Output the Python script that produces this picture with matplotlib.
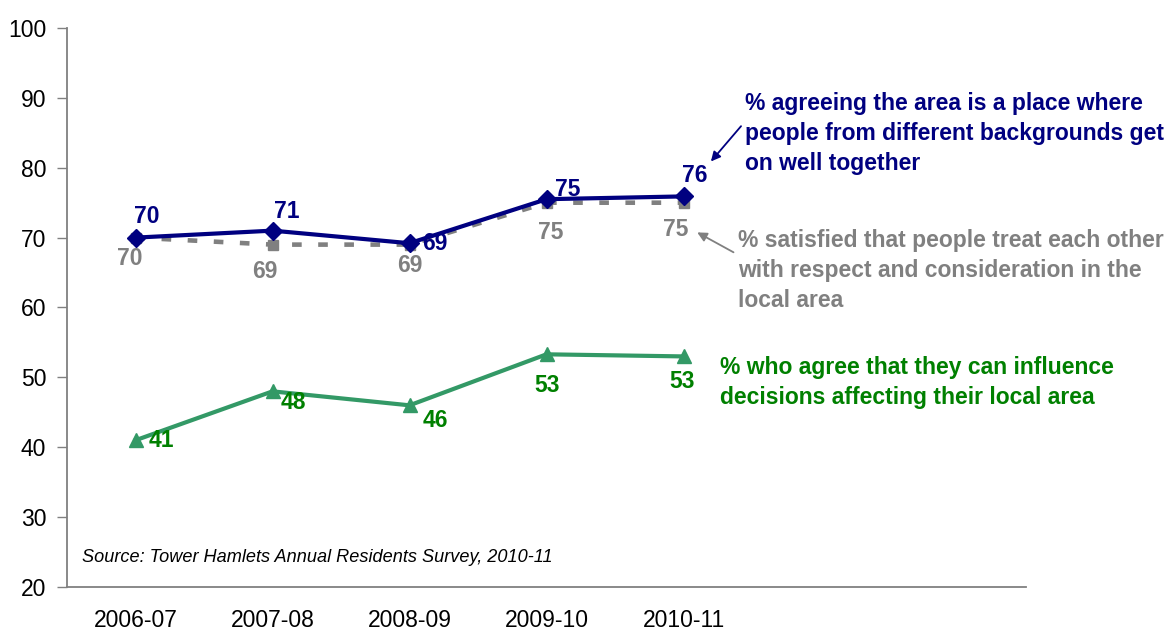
import matplotlib
matplotlib.use("Agg")
import matplotlib.pyplot as plt

plt.rcParams['font.family'] = ['Liberation Sans', 'DejaVu Sans']

# Data
years = ["2006-07", "2007-08", "2008-09", "2009-10", "2010-11"]
backgrounds = [70, 71, 69.2, 75.5, 75.9]
backgrounds_labels = ["70", "71", "69", "75", "76"]
respect = [70, 69, 69, 75, 75]
respect_labels = ["70", "69", "69", "75", "75"]
influence = [41, 48, 46, 53.3, 53]
influence_labels = ["41", "48", "46", "53", "53"]

NAVY = "#000080"
GREY = "#808080"
GREEN_LINE = "#339966"
GREEN_TEXT = "#008000"

# label offsets in pixels (dx, dy), dy up positive
navy_off = [(11, 21), (14, 19), (25, 0), (21, 10), (11, 21)]
grey_off = [(-6, -21), (-8, -27), (0, -21), (4, -30), (-8, -27)]
green_off = [(26, 0), (21, -11), (26, -15), (1, -31), (-1, -25)]

fig = plt.figure(figsize=(11.74, 6.30), dpi=100)
ax = fig.add_axes([67 / 1174, 1 - 587 / 630, (1026 - 67) / 1174, (587 - 28) / 630])

x = list(range(len(years)))

ax.plot(x, respect, color=GREY, lw=3.3, ls=(0, (2.1, 3.6)), marker="s",
        ms=7, mec=GREY, mfc=GREY, zorder=3)
ax.plot(x, backgrounds, color=NAVY, lw=3, marker="D", ms=9.5,
        mec=NAVY, mfc=NAVY, zorder=4)
ax.plot(x, influence, color=GREEN_LINE, lw=3, marker="^", ms=10.5,
        mec=GREEN_LINE, mfc=GREEN_LINE, zorder=3)

def put_labels(vals, labels, offs, color):
    for i, (v, t) in enumerate(zip(vals, labels)):
        ax.annotate(t, (i, v), xytext=offs[i], textcoords="offset pixels",
                    ha="center", va="center", fontsize=16.5, fontweight="bold",
                    color=color, zorder=5)

put_labels(backgrounds, backgrounds_labels, navy_off, NAVY)
put_labels(respect, respect_labels, grey_off, GREY)
put_labels(influence, influence_labels, green_off, GREEN_TEXT)

# series descriptions
ax.text(4.45, 84.9, "% agreeing the area is a place where\npeople from different backgrounds get\non well together",
        color=NAVY, fontsize=16.5, fontweight="bold", ha="left", va="center",
        linespacing=1.4, clip_on=False)
ax.text(4.40, 65.3, "% satisfied that people treat each other\nwith respect and consideration in the\nlocal area",
        color=GREY, fontsize=16.5, fontweight="bold", ha="left", va="center",
        linespacing=1.4, clip_on=False)
ax.text(4.27, 49.3, "% who agree that they can influence\ndecisions affecting their local area",
        color=GREEN_TEXT, fontsize=16.5, fontweight="bold", ha="left", va="center",
        linespacing=1.4, clip_on=False)

ax.annotate("", xy=(4.20, 80.9), xytext=(4.42, 85.95),
            arrowprops=dict(arrowstyle="-|>", color=NAVY, lw=1.3,
                            mutation_scale=14, shrinkA=0, shrinkB=0))
ax.annotate("", xy=(4.10, 70.75), xytext=(4.365, 67.9),
            arrowprops=dict(arrowstyle="-|>", color=GREY, lw=1.3,
                            mutation_scale=14, shrinkA=0, shrinkB=0))

ax.text(-0.394, 24.2, "Source: Tower Hamlets Annual Residents Survey, 2010-11",
        fontsize=13.1, fontstyle="italic", color="black", ha="left", va="center")

ax.set_xlim(-0.5, 6.5)
ax.set_ylim(20, 100)
ax.set_yticks(range(20, 101, 10))
ax.set_xticks(x)
ax.set_xticklabels(years)

for s in ["top", "right"]:
    ax.spines[s].set_visible(False)
for s in ["left", "bottom"]:
    ax.spines[s].set_color(GREY)
    ax.spines[s].set_linewidth(1.3)

ax.tick_params(axis="y", length=7, width=1, color=GREY, pad=8, labelsize=16.5)
ax.tick_params(axis="x", length=0, pad=16, labelsize=16.5)

fig.savefig("out.png", dpi=100)
